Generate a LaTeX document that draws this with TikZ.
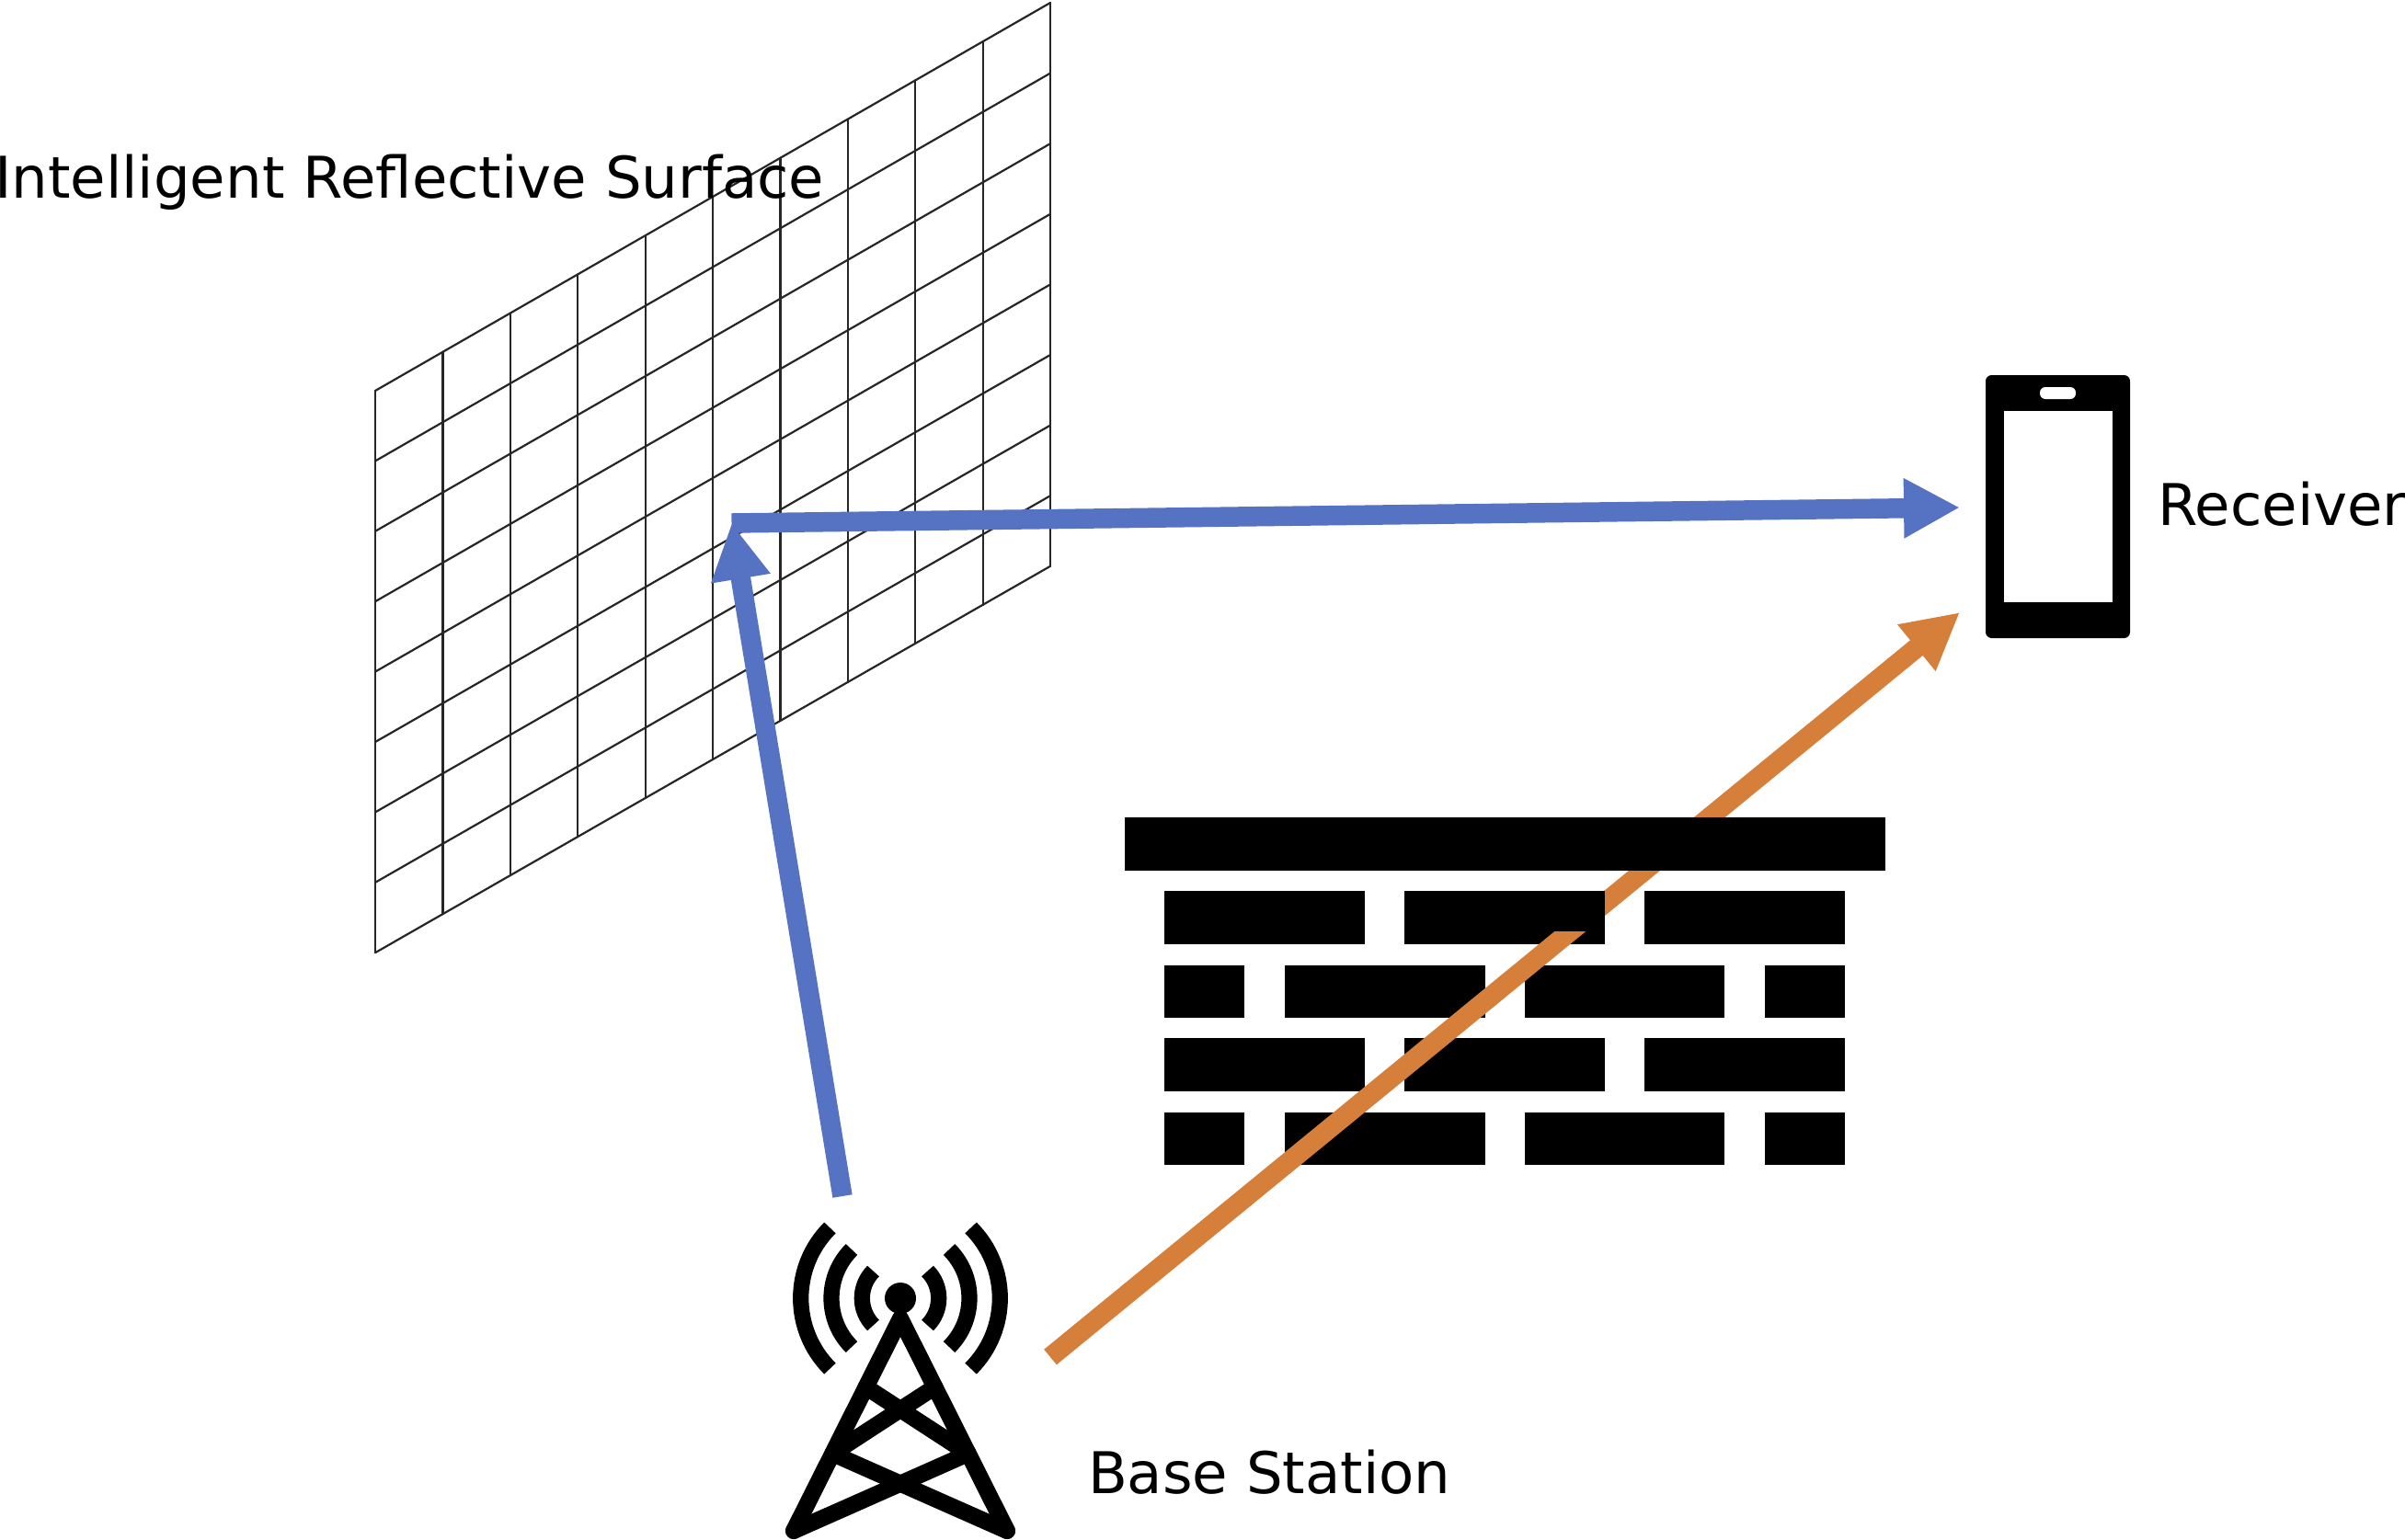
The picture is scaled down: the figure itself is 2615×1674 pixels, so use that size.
\documentclass[tikz,border=0pt]{standalone}
\usepackage{fontspec}
\setmainfont{DejaVu Sans}
\usetikzlibrary{arrows.meta}
\definecolor{rayblue}{HTML}{5672C2}
\definecolor{rayorange}{HTML}{D67F3B}
\definecolor{gridline}{HTML}{262626}
\tikzset{
  x=0.02cm,y=-0.02cm,
  gridstroke/.style={draw=gridline,line width=0.044cm},
  label/.style={inner sep=0pt,outer sep=0pt,anchor=base west,text=black,font=\fontsize{35.6pt}{41pt}\selectfont},
  brick/.style={fill=black},
  ray/.style={line width=0.43cm,line cap=butt,-{Triangle[length=1.22cm,width=1.22cm]}},
  towerbar/.style={draw=black,line width=0.36cm,line join=round,line cap=round},
  wave/.style={draw=black,line width=0.345cm,line cap=butt},
}
\begin{document}
\begin{tikzpicture}
\useasboundingbox (0,0) rectangle (2615,1674);
% reflective surface
\foreach \i in {0,...,10}{
  \draw[gridstroke,line cap=round] ({408+73.4*\i},{425-42.2*\i}) -- ({408+73.4*\i},{1036-42*\i});
}
\foreach \j in {0,...,8}{
  \draw[gridstroke,line cap=round] (408,{425+76.4*\j}) -- (1142,{3+76.6*\j});
}
\node[label] (irslabel) at (-6,215) {Intelligent Reflective Surface};
% base station
\node[circle,fill=black,inner sep=0pt,minimum size=0.68cm] (ball) at (979,1412) {};
\foreach \r in {0.834,1.5,2.166}{
  \draw[wave] (ball.center) ++(135:\r cm) arc[start angle=135,end angle=225,radius=\r cm];
  \draw[wave] (ball.center) ++(-45:\r cm) arc[start angle=-45,end angle=45,radius=\r cm];
}
\draw[towerbar] (863,1665) -- (979,1434) -- (1095,1665);
\draw[towerbar] (941.5,1508.6) -- (1052.7,1581) -- (863,1665);
\draw[towerbar] (1016.5,1508.6) -- (905.3,1581) -- (1095,1665);
\node[label] (bslabel) at (1183,1624) {Base Station};
% receiver
\fill[black,rounded corners=0.13cm] (2159,408) rectangle (2316,694);
\fill[white] (2179,447) rectangle (2297,655);
\fill[white,rounded corners=0.12cm] (2218,421) rectangle (2257,434);
\node[label] (rxlabel) at (2346,571) {Receiver};
% wall, lower part below the direct ray
\foreach \a/\b in {1266/1483.5,1527/1745,1788/2006}{
  \fill[brick] (\a,969) rectangle (\b,1027);
  \fill[brick] (\a,1129) rectangle (\b,1187);
}
\foreach \a/\b in {1266/1353,1397/1615,1658/1875,1919/2006}{
  \fill[brick] (\a,1050) rectangle (\b,1107);
  \fill[brick] (\a,1210) rectangle (\b,1267);
}
% rays
\coordinate (bsup) at (916,1301);
\coordinate (irshit) at (795.5,569);
\coordinate (rxin) at (2131,552);
\coordinate (bsright) at (1142,1476);
\coordinate (rxlow) at (2131,666);
\draw[ray,draw=rayorange,fill=rayorange] (bsright) -- (rxlow);
\draw[ray,draw=rayblue,fill=rayblue] (bsup) -- (irshit);
\draw[ray,draw=rayblue,fill=rayblue] (irshit) -- (rxin);
% wall, upper part above the direct ray
\fill[brick] (1223,889) rectangle (2050,947);
\fill[brick] (1527,969) rectangle (1745,1013);
\end{tikzpicture}
\end{document}
